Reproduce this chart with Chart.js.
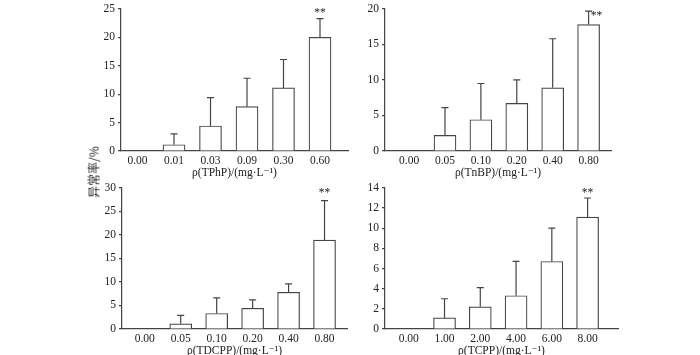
<!DOCTYPE html>
<html>
<head>
<meta charset="utf-8">
<script src="https://cdn.jsdelivr.net/npm/chart.js@4/dist/chart.umd.min.js"></script>
<style>
  body { margin: 0; background: #fff; }
  #wrap { position: relative; width: 700px; height: 355px; overflow: hidden; }
  .panel { position: absolute; }
  #ytitle {
    position: absolute; left: 93px; top: 172px;
    transform: translate(-50%, -50%) rotate(-90deg);
    font: 12px 'Noto Sans CJK SC', sans-serif; color: #222; white-space: nowrap;
  }
</style>
</head>
<body>
<div id="wrap">
  <div class="panel" id="p0"><canvas id="c0"></canvas></div>
  <div class="panel" id="p1"><canvas id="c1"></canvas></div>
  <div class="panel" id="p2"><canvas id="c2"></canvas></div>
  <div class="panel" id="p3"><canvas id="c3"></canvas></div>
  <div id="ytitle">异常率/%</div>
</div>
<script>
// TPhP
const tphpLabels = ['0.00', '0.01', '0.03', '0.09', '0.30', '0.60']
const tphpMeans = [0, 1.1, 4.4, 7.8, 11.1, 20.0]
const tphpUpper = [0, 3.0, 9.4, 12.8, 16.1, 23.3]
// TnBP
const tnbpLabels = ['0.00', '0.05', '0.10', '0.20', '0.40', '0.80']
const tnbpMeans = [0, 2.2, 4.4, 6.7, 8.9, 17.8]
const tnbpUpper = [0, 6.1, 9.5, 10.0, 15.8, 19.7]
// TDCPP
const tdcppLabels = ['0.00', '0.05', '0.10', '0.20', '0.40', '0.80']
const tdcppMeans = [0, 1.1, 3.3, 4.4, 7.8, 18.9]
const tdcppUpper = [0, 2.9, 6.6, 6.2, 9.6, 27.3]
// TCPP
const tcppLabels = ['0.00', '1.00', '2.00', '4.00', '6.00', '8.00']
const tcppMeans = [0, 1.1, 2.2, 3.3, 6.7, 11.1]
const tcppUpper = [0, 3.0, 4.1, 6.7, 10.0, 13.0]

const ink = '#444'
const textColor = '#222'
const serif = "'Liberation Serif', 'DejaVu Serif', serif"

// error bars (upper only) and the ** mark on the highest dose
const errorBarPlugin = {
  id: 'errorBars',
  afterDatasetsDraw (chart, args, opts) {
    const { ctx } = chart
    const xs = chart.scales.x
    const ys = chart.scales.y
    ctx.save()
    ctx.strokeStyle = ink
    ctx.lineWidth = 1.2
    opts.upper.forEach((u, i) => {
      if (!u) return
      const x = xs.getPixelForValue(i)
      const y0 = ys.getPixelForValue(opts.means[i])
      const y1 = ys.getPixelForValue(u)
      ctx.beginPath()
      ctx.moveTo(x, y0)
      ctx.lineTo(x, y1)
      ctx.moveTo(x - 3.5, y1)
      ctx.lineTo(x + 3.5, y1)
      ctx.stroke()
    })
    const last = opts.upper.length - 1
    ctx.fillStyle = textColor
    ctx.font = '11.5px ' + serif
    ctx.textAlign = 'center'
    ctx.textBaseline = 'middle'
    ctx.fillText('**', xs.getPixelForValue(last) + opts.starDx, ys.getPixelForValue(opts.upper[last]) + opts.starDy)
    ctx.restore()
  }
}

function makePanel (idx, labels, means, upper, title, yMax, yStep, area, xMin, xMax, starDx, starDy) {
  const left = Math.round(area.l - 34)
  const top = Math.round(area.t - 8)
  const width = Math.round(area.r - left + 6)
  const height = Math.round(area.b - top + 32)
  const box = document.getElementById('p' + idx)
  box.style.left = left + 'px'
  box.style.top = top + 'px'
  box.style.width = width + 'px'
  box.style.height = height + 'px'

  const data = {
    datasets: [{
      data: means.map((y, i) => ({ x: i, y })),
      backgroundColor: '#fff',
      borderColor: ink,
      borderWidth: 1.2,
      barThickness: 22
    }]
  }
  const options = {
    responsive: true,
    maintainAspectRatio: false,
    animation: false,
    layout: { padding: { top: 8, right: 6, left: 0, bottom: 0 } },
    plugins: {
      legend: { display: false },
      tooltip: { enabled: false },
      errorBars: { means, upper, starDx, starDy }
    },
    scales: {
      x: {
        type: 'linear',
        offset: false,
        min: xMin,
        max: xMax,
        afterBuildTicks (axis) { axis.ticks = labels.map((l, i) => ({ value: i })) },
        afterFit (axis) { axis.height = 32 },
        ticks: {
          callback: (v) => labels[v],
          font: { family: serif, size: 11.5 },
          color: textColor,
          padding: 3,
          maxRotation: 0,
          autoSkip: false
        },
        grid: { display: false, drawTicks: false, offset: false },
        border: { display: true, color: ink, width: 1.2 },
        title: {
          display: true,
          text: title,
          font: { family: serif, size: 11.5 },
          color: textColor,
          padding: { top: 0, bottom: 3 }
        }
      },
      y: {
        min: 0,
        max: yMax,
        afterFit (axis) { axis.width = 34 },
        ticks: {
          stepSize: yStep,
          font: { family: serif, size: 11.5 },
          color: textColor,
          padding: 3
        },
        grid: { drawOnChartArea: false, drawTicks: true, tickLength: 3, color: ink, lineWidth: 1.2 },
        border: { display: true, color: ink, width: 1.2 }
      }
    }
  }
  return new Chart(document.getElementById('c' + idx).getContext('2d'), { type: 'bar', data, options, plugins: [errorBarPlugin] })
}

makePanel(0, tphpLabels, tphpMeans, tphpUpper, 'ρ(TPhP)/(mg·L⁻¹)', 25, 5,
  { l: 121, t: 7, r: 348, b: 150.5 }, -0.452, 5.767, 0, -6)
makePanel(1, tnbpLabels, tnbpMeans, tnbpUpper, 'ρ(TnBP)/(mg·L⁻¹)', 20, 5,
  { l: 385, t: 7, r: 611, b: 150.7 }, -0.671, 5.624, 8, 5)
makePanel(2, tdcppLabels, tdcppMeans, tdcppUpper, 'ρ(TDCPP)/(mg·L⁻¹)', 30, 5,
  { l: 122, t: 186, r: 347, b: 329 }, -0.633, 5.625, 0, -8)
makePanel(3, tcppLabels, tcppMeans, tcppUpper, 'ρ(TCPP)/(mg·L⁻¹)', 14, 2,
  { l: 385, t: 186, r: 618, b: 329 }, -0.664, 5.85, 0, -5)
</script>
</body>
</html>
